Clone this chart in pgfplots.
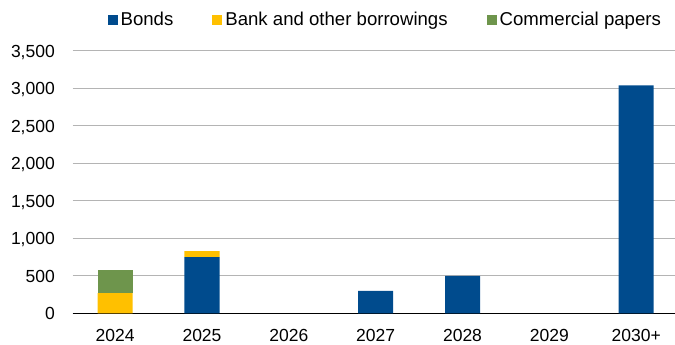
\documentclass[border=0pt]{standalone}
\usepackage{fontspec}
\setmainfont{Liberation Sans}
\usepackage{pgfplots}
\pgfplotsset{compat=1.18}
\definecolor{cBonds}{HTML}{004B8D}
\definecolor{cBank}{HTML}{FFC000}
\definecolor{cCP}{HTML}{6E954C}
\definecolor{cGrid}{HTML}{B4B4B4}
\begin{document}
\begin{tikzpicture}
\begin{axis}[
  at={(0pt,0pt)}, anchor=south west,
  scale only axis,
  width=602.3pt, height=262.3pt,
  ybar stacked, bar width=35pt,
  xmin=-0.489, xmax=6.447,
  ymin=0, ymax=3500,
  ytick={0,500,...,3500},
  xtick={0,1,2,3,4,5,6},
  xticklabels={2024,2025,2026,2027,2028,2029,2030+},
  ymajorgrids, grid style={cGrid, line width=1pt},
  major tick length=0pt,
  axis x line*=bottom, axis y line*=left,
  y axis line style={draw=none},
  x axis line style={black, line width=1.3pt, -},
  /pgf/number format/assume math mode=true,
  /pgf/number format/1000 sep={,},
  tick label style={font=\fontsize{17.5}{21}\selectfont, inner sep=0pt},
  yticklabel style={anchor=base east, xshift=-17.7pt, yshift=-6.2pt},
  xticklabel style={anchor=base, yshift=-28.4pt},
  legend style={draw=none, fill=none, inner sep=0pt, outer sep=0pt,
    at={(0.058,1.119)}, anchor=west,
    font=\fontsize{18.6}{22}\selectfont,
    nodes={inner sep=2pt, anchor=west},
    /tikz/every odd column/.append style={column sep=1pt},
    /tikz/every even column/.append style={column sep=37pt}},
  legend columns=3,
  legend image code/.code={\fill[#1] (0pt,-5pt) rectangle (10pt,5pt);},
  clip=false,
]
\addplot[fill=cBonds, draw=none] coordinates {(0,0) (1,750) (2,0) (3,300) (4,500) (5,0) (6,3040)};
\addplot[fill=cBank, draw=none] coordinates {(0,270) (1,80) (2,0) (3,0) (4,0) (5,0) (6,0)};
\addplot[fill=cCP, draw=none] coordinates {(0,305) (1,0) (2,0) (3,0) (4,0) (5,0) (6,0)};
\legend{Bonds, Bank and other borrowings, Commercial papers}
\end{axis}
\pgfresetboundingbox
\path[use as bounding box] (-72.7pt,-31.7pt) rectangle (602.3pt,313.3pt);
\end{tikzpicture}
\end{document}
